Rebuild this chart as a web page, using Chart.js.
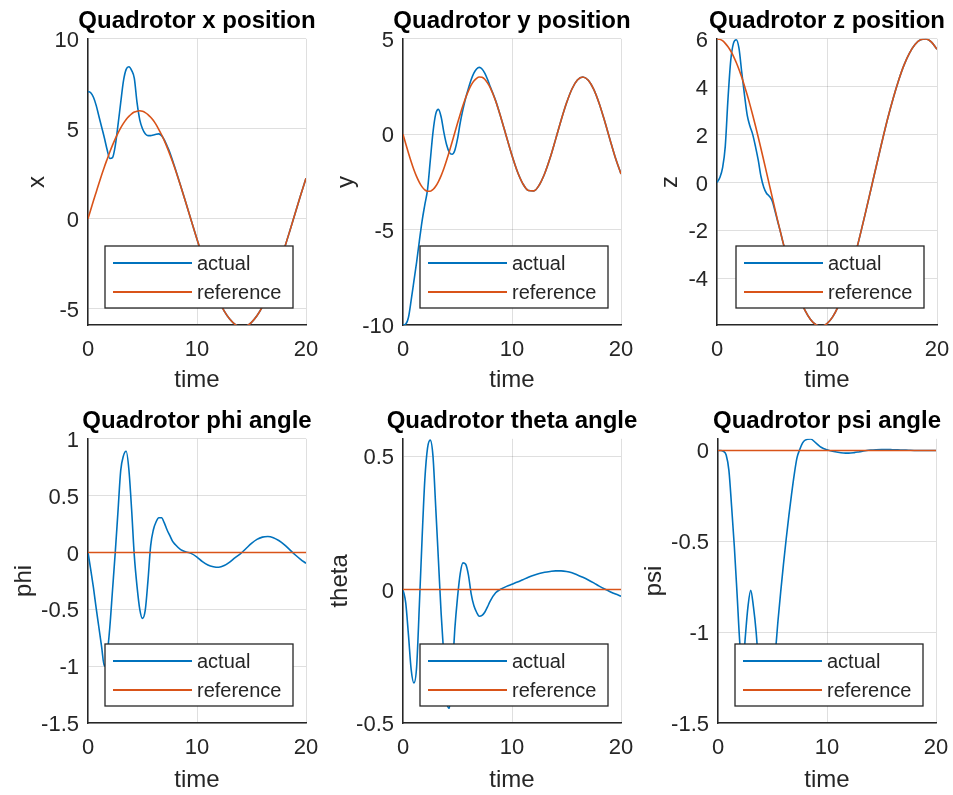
<!DOCTYPE html>
<html>
<head>
<meta charset="utf-8">
<script src="https://cdn.jsdelivr.net/npm/chart.js@4.4.1/dist/chart.umd.min.js"></script>
<style>
  html, body { margin: 0; padding: 0; background: #fff; overflow: hidden; }
  body { width: 953px; height: 795px; position: relative; }
  canvas { position: absolute; }
</style>
</head>
<body>
<canvas id="pX"></canvas>
<canvas id="pY"></canvas>
<canvas id="pZ"></canvas>
<canvas id="pPhi"></canvas>
<canvas id="pTheta"></canvas>
<canvas id="pPsi"></canvas>
<script>
// sample times (s), denser during the transient
const time = [0, 0.25, 0.5, 0.75, 1, 1.25, 1.5, 1.75, 2,
  2.25, 2.5, 2.75, 3, 3.25, 3.5, 3.75, 4,
  4.25, 4.5, 4.75, 5, 5.25, 5.5, 5.75, 6,
  6.25, 6.5, 6.75, 7, 7.25, 7.5, 7.75, 8,
  8.5, 9, 9.5, 10, 10.5, 11, 11.5, 12, 12.5, 13, 13.5, 14,
  14.5, 15, 15.5, 16, 16.5, 17, 17.5, 18, 18.5, 19, 19.5, 20];

const xActual = [7.07, 7.0, 6.75, 6.3, 5.7, 5.1, 4.5, 3.85, 3.35,
  3.4, 4.05, 5.2, 6.45, 7.65, 8.3, 8.45, 8.25,
  7.8, 6.45, 5.5, 5.0, 4.72, 4.62, 4.62, 4.66,
  4.7, 4.72, 4.62, 4.38, 4.05, 3.7, 3.25, 2.8,
  1.84, 0.85, -0.15, -1.14, -2.10, -3.01, -3.83, -4.54, -5.13, -5.57, -5.87, -5.99,
  -5.96, -5.75, -5.39, -4.88, -4.23, -3.47, -2.61, -1.68, -0.70, 0.30, 1.29, 2.25];
const xReference = [0, 0.50, 1.00, 1.48, 1.96, 2.43, 2.88, 3.30, 3.71,
  4.09, 4.44, 4.76, 5.05, 5.30, 5.52, 5.69, 5.83,
  5.93, 5.98, 6.00, 5.97, 5.90, 5.79, 5.64, 5.46,
  5.23, 4.96, 4.67, 4.34, 3.98, 3.59, 3.18, 2.75,
  1.82, 0.85, -0.15, -1.14, -2.10, -3.01, -3.83, -4.54, -5.13, -5.57, -5.87, -5.99,
  -5.96, -5.75, -5.39, -4.88, -4.23, -3.47, -2.61, -1.68, -0.70, 0.30, 1.29, 2.25];

const yActual = [-10, -9.95, -9.6, -8.7, -7.7, -6.7, -5.6, -4.55, -3.7,
  -2.9, -1.4, 0.1, 1.05, 1.3, 0.9, 0.1, -0.55,
  -0.95, -1.05, -0.85, -0.25, 0.6, 1.3, 1.9, 2.4,
  2.85, 3.2, 3.42, 3.5, 3.42, 3.2, 2.88, 2.5,
  1.76, 0.84, -0.15, -1.12, -1.97, -2.60, -2.95, -2.97, -2.66, -2.06, -1.24, -0.27,
  0.72, 1.63, 2.37, 2.84, 3.00, 2.83, 2.35, 1.61, 0.69, -0.30, -1.26, -2.08];
const yReference = [0, -0.50, -0.98, -1.44, -1.86, -2.22, -2.52, -2.76, -2.92,
  -2.99, -2.99, -2.90, -2.73, -2.48, -2.17, -1.80, -1.37,
  -0.91, -0.42, 0.08, 0.57, 1.05, 1.50, 1.91, 2.27,
  2.57, 2.79, 2.93, 3.00, 2.98, 2.88, 2.69, 2.44,
  1.74, 0.84, -0.15, -1.12, -1.97, -2.60, -2.95, -2.97, -2.66, -2.06, -1.24, -0.27,
  0.72, 1.63, 2.37, 2.84, 3.00, 2.83, 2.35, 1.61, 0.69, -0.30, -1.26, -2.08];

const zActual = [0, 0.2, 0.6, 1.5, 3.5, 5.1, 5.82, 5.96, 5.6,
  4.6, 3.65, 2.8, 2.35, 2.0, 1.5, 0.93, 0.25,
  -0.2, -0.45, -0.57, -0.75, -1.15, -1.6, -2.03, -2.50,
  -2.94, -3.36, -3.77, -4.14, -4.49, -4.81, -5.09, -5.34,
  -5.72, -5.94, -6.00, -5.89, -5.62, -5.19, -4.62, -3.92, -3.12, -2.22, -1.26, -0.27,
  0.72, 1.70, 2.64, 3.49, 4.25, 4.90, 5.40, 5.76, 5.96, 5.99, 5.86, 5.56];
const zReference = [6.00, 5.98, 5.92, 5.81, 5.67, 5.49, 5.27, 5.01, 4.72,
  4.39, 4.03, 3.65, 3.24, 2.81, 2.36, 1.89, 1.41,
  0.92, 0.42, -0.08, -0.57, -1.07, -1.56, -2.03, -2.50,
  -2.94, -3.36, -3.77, -4.14, -4.49, -4.81, -5.09, -5.34,
  -5.72, -5.94, -6.00, -5.89, -5.62, -5.19, -4.62, -3.92, -3.12, -2.22, -1.26, -0.27,
  0.72, 1.70, 2.64, 3.49, 4.25, 4.90, 5.40, 5.76, 5.96, 5.99, 5.86, 5.56];

const phiActual = [0, -0.15, -0.31, -0.49, -0.66, -0.83, -1.0, -0.9, -0.66,
  -0.33, 0.0, 0.36, 0.72, 0.85, 0.89, 0.73, 0.38,
  -0.03, -0.3, -0.5, -0.58, -0.51, -0.25, 0.06, 0.2,
  0.27, 0.305, 0.305, 0.26, 0.2, 0.15, 0.1, 0.07,
  0.025, 0.005, -0.01, -0.04, -0.08, -0.11, -0.125, -0.13, -0.115, -0.085, -0.045, -0.01,
  0.035, 0.08, 0.115, 0.135, 0.14, 0.13, 0.105, 0.07, 0.025, -0.02, -0.06, -0.095];

const thetaActual = [0, -0.05, -0.17, -0.3, -0.35, -0.29, -0.06, 0.19, 0.41,
  0.53, 0.56, 0.5, 0.31, 0.11, -0.09, -0.25, -0.42,
  -0.445, -0.32, -0.15, -0.03, 0.06, 0.1, 0.095, 0.055,
  -0.015, -0.06, -0.085, -0.1, -0.097, -0.085, -0.065, -0.043,
  -0.012, 0.002, 0.012, 0.02, 0.028, 0.037, 0.046, 0.054, 0.06, 0.065, 0.068, 0.07,
  0.07, 0.068, 0.063, 0.055, 0.046, 0.036, 0.025, 0.013, 0.002, -0.008, -0.017, -0.025];

const psiActual = [0, 0, -0.005, -0.025, -0.11, -0.31, -0.53, -0.79, -1.06,
  -1.22, -1.03, -0.86, -0.77, -0.86, -1.0, -1.2, -1.32,
  -1.36, -1.36, -1.32, -1.24, -1.12, -0.94, -0.78, -0.63,
  -0.49, -0.36, -0.24, -0.13, -0.04, 0.005, 0.04, 0.057,
  0.063, 0.04, 0.016, 0.004, -0.004, -0.01, -0.014, -0.015, -0.012, -0.007, -0.002, 0.002,
  0.004, 0.005, 0.005, 0.004, 0.003, 0.002, 0.001, 0, 0, 0, 0, 0];

// angle references are flat zero
const angleRefTime = [0, 20];
const angleReference = [0, 0];

// tick labels
const timeTicks = [0, 10, 20];
const xTicks = [-5, 0, 5, 10];
const yTicks = [-10, -5, 0, 5];
const zTicks = [-4, -2, 0, 2, 4, 6];
const phiTicks = [-1.5, -1, -0.5, 0, 0.5, 1];
const thetaTicks = [-0.5, 0, 0.5];
const psiTicks = [-1.5, -1, -0.5, 0];

const BLUE = '#0072bd';
const ORANGE = '#d95319';
const INK = '#262626';
const GRID = 'rgba(38,38,38,0.15)';
const FONT = '"Liberation Sans", Arial, Helvetica, sans-serif';

Chart.defaults.font.family = FONT;

// axes positions on the page (canvas left/top, left axis width, x axis height, plot width)
const panels = [
  { id: 'pX', title: 'Quadrotor x position', label: 'x', actual: xActual, refT: time, ref: xReference,
    ticks: xTicks, min: -5.9, max: 10, left: 23, top: 0, axisW: 65, plotW: 218, axisH: 70 },
  { id: 'pY', title: 'Quadrotor y position', label: 'y', actual: yActual, refT: time, ref: yReference,
    ticks: yTicks, min: -10, max: 5, left: 332, top: 0, axisW: 71, plotW: 218, axisH: 70 },
  { id: 'pZ', title: 'Quadrotor z position', label: 'z', actual: zActual, refT: time, ref: zReference,
    ticks: zTicks, min: -5.95, max: 6, left: 656, top: 0, axisW: 61, plotW: 220, axisH: 70 },
  { id: 'pPhi', title: 'Quadrotor phi angle', label: 'phi', actual: phiActual, refT: angleRefTime, ref: angleReference,
    ticks: phiTicks, min: -1.5, max: 1, left: 10, top: 400, axisW: 78, plotW: 218, axisH: 72 },
  { id: 'pTheta', title: 'Quadrotor theta angle', label: 'theta', actual: thetaActual, refT: angleRefTime, ref: angleReference,
    ticks: thetaTicks, min: -0.5, max: 0.565, left: 326, top: 400, axisW: 77, plotW: 218, axisH: 72 },
  { id: 'pPsi', title: 'Quadrotor psi angle', label: 'psi', actual: psiActual, refT: angleRefTime, ref: angleReference,
    ticks: psiTicks, min: -1.5, max: 0.064, left: 640, top: 400, axisW: 78, plotW: 218, axisH: 72 }
];

const toPoints = (t, v) => t.map((x, i) => ({ x, y: v[i] }));

// boxed legend drawn inside the axes, lower right, like the original figure
const insideLegend = {
  id: 'insideLegend',
  afterDatasetsDraw(chart) {
    const a = chart.chartArea;
    const ctx = chart.ctx;
    const w = 188, h = 62;
    const x0 = a.right - 13 - w;
    const y0 = a.bottom - 17 - h;
    ctx.save();
    ctx.fillStyle = '#fff';
    ctx.fillRect(x0, y0, w, h);
    ctx.strokeStyle = INK;
    ctx.lineWidth = 1.3;
    ctx.strokeRect(x0, y0, w, h);
    ctx.font = '20px ' + FONT;
    ctx.textBaseline = 'middle';
    chart.data.datasets.forEach((ds, i) => {
      const y = y0 + 17 + i * 29;
      ctx.strokeStyle = ds.borderColor;
      ctx.lineWidth = 2;
      ctx.beginPath();
      ctx.moveTo(x0 + 8, y);
      ctx.lineTo(x0 + 87, y);
      ctx.stroke();
      ctx.fillStyle = INK;
      ctx.fillText(ds.label, x0 + 92, y + 1);
    });
    ctx.restore();
  }
};

panels.forEach(p => {
  const canvas = document.getElementById(p.id);
  canvas.width = p.axisW * 2 + p.plotW;
  canvas.height = 395;
  canvas.style.left = p.left + 'px';
  canvas.style.top = p.top + 'px';

  new Chart(canvas.getContext('2d'), {
    type: 'line',
    data: {
      datasets: [
        { label: 'actual', data: toPoints(time, p.actual), borderColor: BLUE, order: 1 },
        { label: 'reference', data: toPoints(p.refT, p.ref), borderColor: ORANGE, order: 0 }
      ]
    },
    options: {
      responsive: false,
      animation: false,
      devicePixelRatio: 1,
      elements: {
        point: { radius: 0 },
        line: { borderWidth: 1.6, cubicInterpolationMode: 'monotone', fill: false }
      },
      plugins: {
        legend: { display: false },
        tooltip: { enabled: false },
        title: {
          display: true,
          text: p.title,
          color: '#000',
          font: { size: 24, weight: 'bold', lineHeight: 1.2 },
          padding: { top: 7, bottom: 3 }
        }
      },
      scales: {
        x: {
          type: 'linear',
          min: 0,
          max: 20,
          afterBuildTicks: s => { s.ticks = timeTicks.map(v => ({ value: v })); },
          afterFit: s => { s.height = p.axisH; },
          grid: { color: GRID, drawTicks: false },
          border: { display: true, color: INK, width: 1.5 },
          ticks: { color: INK, font: { size: 22 }, padding: 12, maxRotation: 0, autoSkip: false, callback: v => String(v) },
          title: { display: true, text: 'time', color: INK, font: { size: 24, lineHeight: 1.2 }, padding: 0 }
        },
        y: {
          type: 'linear',
          min: p.min,
          max: p.max,
          afterBuildTicks: s => { s.ticks = p.ticks.map(v => ({ value: v })); },
          afterFit: s => { s.width = p.axisW; },
          grid: { color: GRID, drawTicks: false },
          border: { display: true, color: INK, width: 1.5 },
          ticks: { color: INK, font: { size: 22 }, padding: 9, labelOffset: 2, autoSkip: false, callback: v => String(v) },
          title: { display: true, text: p.label, color: INK, font: { size: 24, lineHeight: 1.2 }, padding: 0 }
        },
        // empty right-hand box so the title centres over the axes
        pad: {
          type: 'linear',
          position: 'right',
          grid: { display: false },
          border: { display: false },
          ticks: { display: false },
          afterFit: s => { s.width = p.axisW; }
        }
      }
    },
    plugins: [insideLegend]
  });
});
</script>
</body>
</html>
